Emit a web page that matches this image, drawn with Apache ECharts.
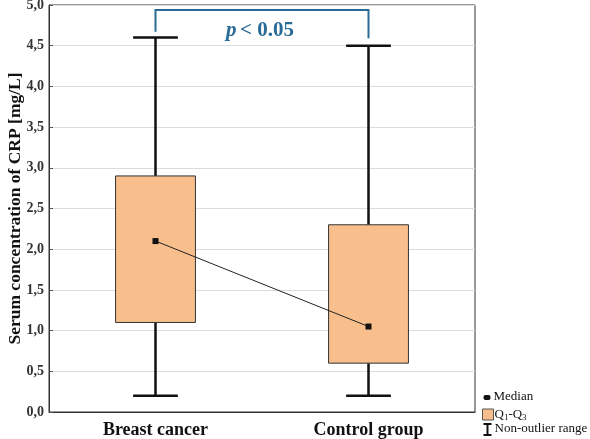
<!DOCTYPE html>
<html lang="en">
<head>
    <meta charset="UTF-8">
    <title>CRP boxplot</title>
    <script src="https://cdn.jsdelivr.net/npm/echarts@6/dist/echarts.min.js"></script>
    <style>
        * { margin: 0; padding: 0; }
        #main { width: 590px; height: 439px; }
    </style>
</head>
<body>
    <div id="main"></div>
    <script>
        // data
        var groups = ['Breast cancer', 'Control group'];
        var minVals = [0.2, 0.2];
        var q1Vals = [1.1, 0.6];
        var medianVals = [2.1, 1.05];
        var q3Vals = [2.9, 2.3];
        var maxVals = [4.6, 4.5];
        var yTicks = ['0,0', '0,5', '1,0', '1,5', '2,0', '2,5', '3,0', '3,5', '4,0', '4,5', '5,0'];

        var boxFill = '#f8bf8c';
        var bracketColor = '#2a6a96';
        var serif = '"Liberation Serif", "DejaVu Serif", serif';

        var boxData = groups.map(function (g, i) {
            return [i, minVals[i], q1Vals[i], medianVals[i], q3Vals[i], maxVals[i]];
        });

        var chart = echarts.init(document.getElementById('main'));

        option = {
            backgroundColor: '#fff',
            animation: false,
            grid: {
                left: 49, right: 115, top: 5, bottom: 27,
                outerBoundsMode: 'none',
                containLabel: false,
                show: true, borderColor: '#333', borderWidth: 1
            },
            xAxis: [{
                type: 'category',
                data: groups,
                axisLine: { lineStyle: { color: '#333' } },
                axisTick: { alignWithLabel: true, inside: true, length: 4, lineStyle: { color: '#555' } },
                axisLabel: {
                    margin: 9,
                    fontFamily: serif, fontWeight: 'bold', fontSize: 18, color: '#111'
                }
            }, {
                type: 'category',
                position: 'top',
                data: groups,
                axisLine: { show: false },
                axisTick: { alignWithLabel: true, inside: true, length: 4, lineStyle: { color: '#555' } },
                axisLabel: { show: false }
            }],
            yAxis: {
                type: 'value',
                min: 0, max: 5, interval: 0.5,
                name: 'Serum concentration of CRP [mg/L]',
                nameLocation: 'middle',
                nameGap: 34,
                nameMoveOverlap: false,
                nameTextStyle: {
                    fontFamily: serif, fontWeight: 'bold', fontSize: 17.5, color: '#111',
                    verticalAlign: 'middle'
                },
                axisLine: { show: true, lineStyle: { color: '#333' } },
                axisTick: { show: true, inside: true, length: 4, lineStyle: { color: '#555' } },
                splitLine: { lineStyle: { color: '#dcdcdc' } },
                axisLabel: {
                    margin: 5,
                    fontFamily: serif, fontWeight: 'bold', fontSize: 14, color: '#333',
                    formatter: function (v) { return yTicks[Math.round(v * 2)]; }
                }
            },
            series: [{
                type: 'custom',
                data: boxData,
                renderItem: function (params, api) {
                    var x = api.value(0);
                    var pMin = api.coord([x, api.value(1)]);
                    var pQ1 = api.coord([x, api.value(2)]);
                    var pQ3 = api.coord([x, api.value(4)]);
                    var pMax = api.coord([x, api.value(5)]);
                    var band = api.size([1, 0])[0];
                    var bw = band * 0.375;
                    var cw = band * 0.21;
                    var cx = pMin[0];
                    var lineStyle = { stroke: '#111', lineWidth: 2.5 };
                    return {
                        type: 'group',
                        children: [
                            { type: 'line', shape: { x1: cx, y1: pMax[1], x2: cx, y2: pQ3[1] }, style: lineStyle },
                            { type: 'line', shape: { x1: cx, y1: pQ1[1], x2: cx, y2: pMin[1] }, style: lineStyle },
                            { type: 'line', shape: { x1: cx - cw / 2, y1: pMax[1], x2: cx + cw / 2, y2: pMax[1] }, style: lineStyle },
                            { type: 'line', shape: { x1: cx - cw / 2, y1: pMin[1], x2: cx + cw / 2, y2: pMin[1] }, style: lineStyle },
                            {
                                type: 'rect',
                                shape: { x: cx - bw / 2, y: pQ3[1], width: bw, height: pQ1[1] - pQ3[1] },
                                style: { fill: boxFill, stroke: '#333', lineWidth: 1 }
                            }
                        ]
                    };
                }
            }, {
                type: 'line',
                data: medianVals,
                symbol: 'rect',
                symbolSize: 6,
                lineStyle: { color: '#222', width: 1 },
                itemStyle: { color: '#111' },
                z: 5
            }, {
                // significance bracket
                type: 'custom',
                data: [[0, 1]],
                renderItem: function (params, api) {
                    var a = api.coord([0, 4.67]);
                    var aTop = api.coord([0, 4.94]);
                    var b = api.coord([1, 4.59]);
                    var bTop = api.coord([1, 4.94]);
                    return {
                        type: 'group',
                        children: [{
                            type: 'polyline',
                            shape: { points: [a, aTop, bTop, b] },
                            style: { stroke: bracketColor, lineWidth: 2, fill: null }
                        }, {
                            type: 'text',
                            x: (a[0] + b[0]) / 2 - 2,
                            y: api.coord([0, 4.69])[1],
                            style: {
                                text: '{i|p} {n|< 0.05}',
                                align: 'center', verticalAlign: 'middle',
                                rich: {
                                    i: { fontFamily: serif, fontStyle: 'italic', fontWeight: 'bold', fontSize: 21, fill: bracketColor },
                                    n: { fontFamily: serif, fontWeight: 'bold', fontSize: 21, fill: bracketColor }
                                }
                            }
                        }]
                    };
                }
            }],
            graphic: [{
                type: 'group', left: 481, top: 390,
                children: [
                    { type: 'rect', shape: { x: 1, y: 5, width: 7, height: 5, r: 2 }, style: { fill: '#111' } },
                    { type: 'text', x: 11, y: 0, style: { text: 'Median', fontFamily: serif, fontSize: 13, fill: '#111' } },
                    { type: 'rect', shape: { x: 0, y: 19, width: 11, height: 11 }, style: { fill: boxFill, stroke: '#555', lineWidth: 1 } },
                    {
                        type: 'text', x: 12, y: 17,
                        style: {
                            text: 'Q{s|1}-Q{s|3}',
                            fontFamily: serif, fontSize: 13, fill: '#111',
                            rich: { s: { fontFamily: serif, fontSize: 9, fill: '#111', padding: [6, 0, 0, 0] } }
                        }
                    },
                    { type: 'line', shape: { x1: 5, y1: 34, x2: 5, y2: 45 }, style: { stroke: '#111', lineWidth: 2 } },
                    { type: 'line', shape: { x1: 1, y1: 34, x2: 9, y2: 34 }, style: { stroke: '#111', lineWidth: 2 } },
                    { type: 'line', shape: { x1: 1, y1: 45, x2: 9, y2: 45 }, style: { stroke: '#111', lineWidth: 2 } },
                    { type: 'text', x: 12, y: 32, style: { text: 'Non-outlier range', fontFamily: serif, fontSize: 13, fill: '#111' } }
                ]
            }]
        };
        chart.setOption(option);
    </script>
</body>
</html>
